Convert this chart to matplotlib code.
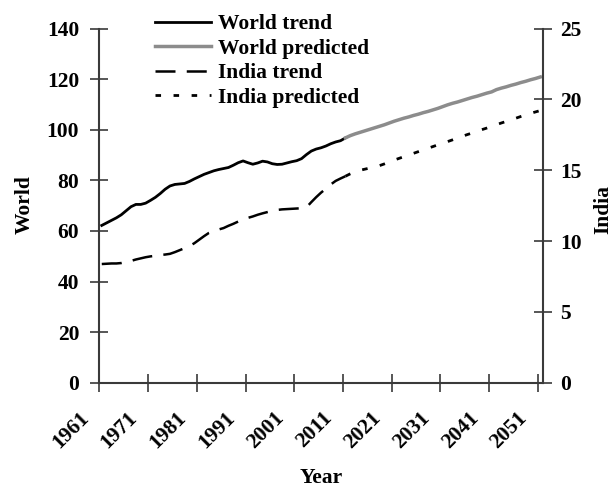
import matplotlib
matplotlib.use("Agg")
import matplotlib.pyplot as plt
import matplotlib.transforms as mtransforms
from matplotlib.ticker import NullFormatter
import numpy as np

plt.rcParams['font.family'] = ['Liberation Serif', 'DejaVu Serif']
plt.rcParams['font.weight'] = 'bold'
plt.rcParams['font.size'] = 15.5

# ##### data #####
trend_years = list(range(1961, 2012))
pred_years = list(range(2011, 2052))

world_trend = [62.2, 63.2, 64.2, 65.2, 66.4, 68.0, 69.6, 70.5, 70.5, 71.0,
               72.1, 73.3, 74.8, 76.5, 77.8, 78.4, 78.6, 78.8, 79.6, 80.6,
               81.5, 82.4, 83.1, 83.8, 84.3, 84.7, 85.1, 86.0, 87.0, 87.7,
               87.0, 86.4, 86.9, 87.6, 87.3, 86.6, 86.3, 86.4, 86.9, 87.4,
               87.8, 88.6, 90.2, 91.6, 92.4, 92.9, 93.6, 94.5, 95.2, 95.7,
               96.8]
world_pred = [96.8, 97.7, 98.4, 99.0, 99.6, 100.2, 100.8, 101.4, 102.0, 102.7,
              103.4, 104.0, 104.6, 105.1, 105.7, 106.2, 106.8, 107.3, 107.9, 108.5,
              109.2, 109.9, 110.5, 111.0, 111.6, 112.2, 112.8, 113.3, 113.9, 114.5,
              115.0, 115.9, 116.5, 117.0, 117.6, 118.1, 118.7, 119.2, 119.8, 120.3,
              120.9]
india_trend = [8.38, 8.40, 8.42, 8.42, 8.45, 8.52, 8.60, 8.70, 8.78, 8.86,
               8.92, 8.96, 9.02, 9.05, 9.10, 9.22, 9.36, 9.50, 9.65, 9.85,
               10.10, 10.35, 10.58, 10.72, 10.82, 10.92, 11.08, 11.22, 11.38, 11.52,
               11.64, 11.74, 11.86, 11.96, 12.05, 12.14, 12.20, 12.24, 12.26, 12.28,
               12.30, 12.32, 12.38, 12.75, 13.10, 13.42, 13.70, 14.00, 14.25, 14.42,
               14.58]
india_pred = [14.58, 14.75, 14.90, 15.00, 15.08, 15.16, 15.25, 15.33, 15.45, 15.58,
              15.72, 15.84, 15.96, 16.08, 16.20, 16.32, 16.44, 16.56, 16.68, 16.80,
              16.92, 17.03, 17.15, 17.28, 17.40, 17.52, 17.63, 17.75, 17.87, 17.98,
              18.10, 18.22, 18.34, 18.45, 18.57, 18.68, 18.80, 18.91, 19.02, 19.12,
              19.22]

label_years = list(range(1961, 2052, 10))
world_ticks = list(range(0, 141, 20))
india_ticks = list(range(0, 26, 5))

axis_col = '#3a3a3a'

fig = plt.figure(figsize=(6.12, 4.88), dpi=100)
ax = fig.add_axes([0.1623, 0.2158, 0.7245, 0.7254])
ax2 = ax.twinx()

l1, = ax.plot(trend_years, world_trend, color='black', lw=2.0, label='World trend')
l2, = ax.plot(pred_years, world_pred, color='#8c8c8c', lw=2.5, label='World predicted')
l3, = ax2.plot(trend_years, india_trend, color='black', lw=1.8,
               linestyle=(0, (8, 4.5)), label='India trend')
l4, = ax2.plot(pred_years, india_pred, color='black', lw=2.0,
               linestyle=(0, (2, 4.5)), label='India predicted')

ax.set_xlim(1960.5, 2051.5)
ax.set_ylim(0, 140)
ax2.set_ylim(0, 25)

# category boundaries get the tick marks, labels sit on the years
ax.set_xticks(np.arange(1960.5, 2051, 10))
ax.xaxis.set_major_formatter(NullFormatter())
ax.set_xticks(label_years, [str(y) for y in label_years], minor=True)
ax.tick_params(axis='x', which='major', direction='inout', length=13,
               width=1.2, color=axis_col)
ax.tick_params(axis='x', which='minor', length=0, pad=18)
shift = mtransforms.ScaledTranslation(-9 / 100, 0, fig.dpi_scale_trans)
for lbl in ax.xaxis.get_minorticklabels():
    lbl.set_rotation(45)
    lbl.set_ha('right')
    lbl.set_va('top')
    lbl.set_transform(lbl.get_transform() + shift)

ax.set_yticks(world_ticks)
ax.tick_params(axis='y', direction='inout', length=13, width=1.2,
               color=axis_col, pad=8)
ax2.set_yticks(india_ticks)
ax2.tick_params(axis='y', direction='inout', length=13, width=1.2,
                color=axis_col, pad=6.3)

for s in ['top', 'right']:
    ax.spines[s].set_visible(False)
for s in ['top', 'left', 'bottom']:
    ax2.spines[s].set_visible(False)
ax.spines['left'].set_color(axis_col)
ax.spines['bottom'].set_color(axis_col)
ax2.spines['right'].set_color(axis_col)
for sp in [ax.spines['left'], ax.spines['bottom'], ax2.spines['right']]:
    sp.set_linewidth(1.5)

fig.text(25 / 612, 1 - 205 / 488, 'World', rotation=90, ha='center', va='center')
fig.text(603 / 612, 1 - 209 / 488, 'India', rotation=90, ha='center', va='center')
fig.text(321 / 612, 1 - 478 / 488, 'Year', ha='center', va='center')

ax2.legend(handles=[l1, l2, l3, l4], loc='upper left',
           bbox_to_anchor=(155 / 612, 1 - 14 / 488), bbox_transform=fig.transFigure,
           frameon=False, borderpad=0, borderaxespad=0, handlelength=2.6,
           handletextpad=0.33, labelspacing=0.21, fontsize=15.5)

fig.savefig('out.png', dpi=100)
